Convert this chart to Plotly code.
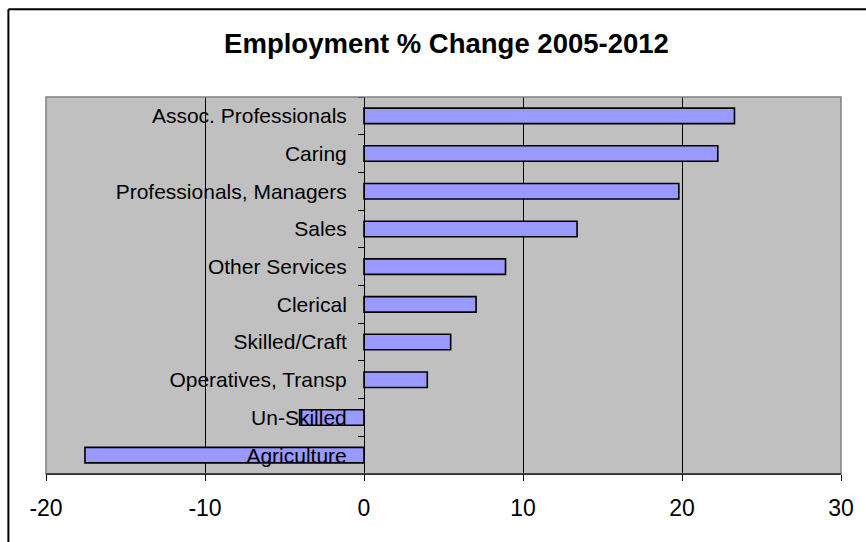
import plotly.graph_objects as go

categories = ["Assoc. Professionals", "Caring", "Professionals, Managers", "Sales",
              "Other Services", "Clerical", "Skilled/Craft", "Operatives, Transp",
              "Un-Skilled", "Agriculture"]
values = [23.3, 22.25, 19.8, 13.4, 8.9, 7.05, 5.45, 3.98, -4.05, -17.55]
x_ticks = [-20, -10, 0, 10, 20, 30]

W, H = 866, 542
L, R, T, B = 46, 843, 97, 474

FONT = "Liberation Sans, Arial, sans-serif"

fig = go.Figure(go.Bar(
    x=values, y=categories, orientation="h",
    marker=dict(color="#9999FF", line=dict(color="#000000", width=1.6)),
    width=0.41,
))

pw, ph = R - L, B - T
bx = (8.3 - L) / pw
by = (B - 9.3) / ph
fig.update_layout(
    width=W, height=H,
    margin=dict(l=L, r=W - R, t=T, b=H - B, pad=0),
    paper_bgcolor="white", plot_bgcolor="#C0C0C0",
    showlegend=False,
    font=dict(family=FONT, color="black"),
    title=dict(text="<b>Employment % Change 2005-2012</b>",
               font=dict(family=FONT, size=27.5, color="black"),
               x=446.5 / W, xanchor="center", xref="container",
               y=1 - 43 / H, yanchor="middle", yref="container"),
    xaxis=dict(range=[-20, 30], tickvals=x_ticks, ticktext=[str(v) for v in x_ticks],
               showgrid=True, gridcolor="black", gridwidth=1,
               zeroline=False, showline=True, linecolor="black", linewidth=1,
               ticks="outside", ticklen=6, tickcolor="black", tickwidth=1,
               tickfont=dict(family=FONT, size=23, color="black"),
               ticklabelstandoff=7, fixedrange=True),
    yaxis=dict(categoryorder="array", categoryarray=categories[::-1],
               anchor="free", position=0.4, side="left",
               showgrid=False, zeroline=False, showline=True,
               linecolor="black", linewidth=1,
               ticks="outside", ticklen=6, tickcolor="black", tickwidth=1,
               tickson="boundaries",
               tickfont=dict(family=FONT, size=21, color="black"),
               ticklabelstandoff=13, fixedrange=True),
    shapes=[
        dict(type="rect", xref="paper", yref="paper", x0=0, x1=1, y0=0, y1=1,
             line=dict(color="#808080", width=1.5), layer="above"),
        dict(type="line", xref="paper", yref="paper", x0=0, x1=1, y0=0, y1=0,
             line=dict(color="black", width=1), layer="above"),
        dict(type="line", xref="paper", yref="paper",
             x0=bx, x1=bx, y0=by, y1=(B - H - 10) / ph,
             line=dict(color="black", width=2), layer="above"),
        dict(type="line", xref="paper", yref="paper",
             x0=bx, x1=(W + 10 - L) / pw, y0=by, y1=by,
             line=dict(color="black", width=2), layer="above"),
    ],
)

fig.write_html("out.html")
